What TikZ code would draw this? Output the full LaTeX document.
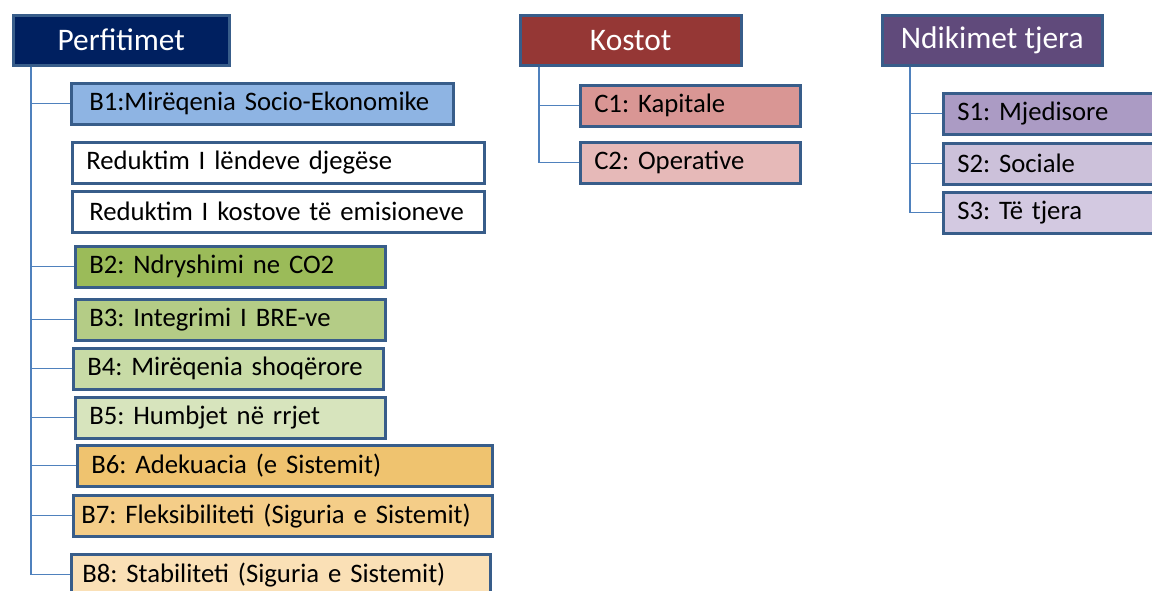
\documentclass[tikz,border=0pt]{standalone}
\usepackage{fontspec}
\setmainfont{Carlito}
\definecolor{bordcol}{RGB}{56,93,138}
\definecolor{linecol}{RGB}{79,129,189}
\definecolor{navy}{RGB}{0,32,96}
\definecolor{kostcol}{RGB}{149,55,53}
\definecolor{ndikcol}{RGB}{96,74,123}
\definecolor{bone}{RGB}{142,180,227}
\definecolor{btwo}{RGB}{155,187,89}
\definecolor{bthree}{RGB}{180,204,134}
\definecolor{bfour}{RGB}{200,219,166}
\definecolor{bfive}{RGB}{215,228,189}
\definecolor{bsix}{RGB}{239,195,111}
\definecolor{bseven}{RGB}{244,205,136}
\definecolor{beight}{RGB}{250,224,182}
\definecolor{cone}{RGB}{217,150,148}
\definecolor{ctwo}{RGB}{230,185,184}
\definecolor{sone}{RGB}{171,155,196}
\definecolor{stwo}{RGB}{204,193,218}
\definecolor{sthree}{RGB}{211,201,225}
\newcommand{\boxfont}{\fontsize{26.7}{30}\selectfont\frenchspacing\hyphenpenalty=10000\relax}
\tikzset{
  head/.style={draw=bordcol, line width=2.5pt, anchor=north west, minimum height=50pt,
    text=white, font=\fontsize{31.4}{34}\selectfont},
  item/.style={draw=bordcol, line width=2.5pt, anchor=north west, minimum height=41pt,
    inner xsep=14pt, align=left, font=\boxfont},
  conn/.style={draw=linecol, line width=1.3pt}
}
\begin{document}
\begin{tikzpicture}[x=1pt,y=-1pt]
    \useasboundingbox (0,0) rectangle (1152,590);
    \clip (0,0) rectangle (1152,590);

    % Perfitimet
    \node[head, fill=navy, minimum width=216pt] (perf) at (12,14) {Perfitimet};
    \node[item, fill=bone, text width=346pt, inner xsep=18pt] (b1) at (70,82) {B1:Mirëqenia Socio-Ekonomike};
    \node[item, fill=white, text width=384pt] (r1) at (71,141) {Reduktim I lëndeve djegëse};
    \node[item, fill=white, text width=378pt, inner xsep=17pt] (r2) at (71,190) {Reduktim I kostove të emisioneve};
    \node[item, fill=btwo, text width=282pt] (b2) at (74,245) {B2: Ndryshimi ne CO2};
    \node[item, fill=bthree, text width=282pt] (b3) at (74,298) {B3: Integrimi I BRE-ve};
    \node[item, fill=bfour, text width=282pt] (b4) at (72,347) {B4: Mirëqenia shoqërore};
    \node[item, fill=bfive, text width=282pt] (b5) at (74,396) {B5: Humbjet në rrjet};
    \node[item, fill=bsix, text width=387pt] (b6) at (76,444) {B6: Adekuacia (e Sistemit)};
    \node[item, fill=bseven, text width=403pt, inner xsep=8pt] (b7) at (72,494) {B7: Fleksibiliteti (Siguria e Sistemit)};
    \node[item, fill=beight, text width=397pt, inner xsep=11pt] (b8) at (70,553) {B8: Stabiliteti (Siguria e Sistemit)};

    \coordinate (pt) at ([xshift=19pt]perf.south west);
    \foreach \b in {b1,b2,b3,b4,b5,b6,b7,b8}
        \draw[conn] (pt) |- (\b.west);

    % Kostot
    \node[head, fill=kostcol, minimum width=221pt] (kost) at (519,14) {Kostot};
    \node[item, fill=cone, text width=192pt] (c1) at (579,84) {C1: Kapitale};
    \node[item, fill=ctwo, text width=192pt] (c2) at (579,141) {C2: Operative};

    \coordinate (kt) at ([xshift=20pt]kost.south west);
    \foreach \c in {c1,c2}
        \draw[conn] (kt) |- (\c.west);

    % Ndikimet tjera
    \node[head, fill=ndikcol, minimum width=220pt] (ndik) at (881,14) {Ndikimet tjera};
    \node[item, fill=sone, text width=202pt] (s1) at (942,92) {S1: Mjedisore};
    \node[item, fill=stwo, text width=202pt] (s2) at (942,142) {S2: Sociale};
    \node[item, fill=sthree, text width=202pt] (s3) at (942,191) {S3: Të tjera};

    \coordinate (nt) at ([xshift=29pt]ndik.south west);
    \foreach \s in {s1,s2,s3}
        \draw[conn] (nt) |- (\s.west);
\end{tikzpicture}
\end{document}
